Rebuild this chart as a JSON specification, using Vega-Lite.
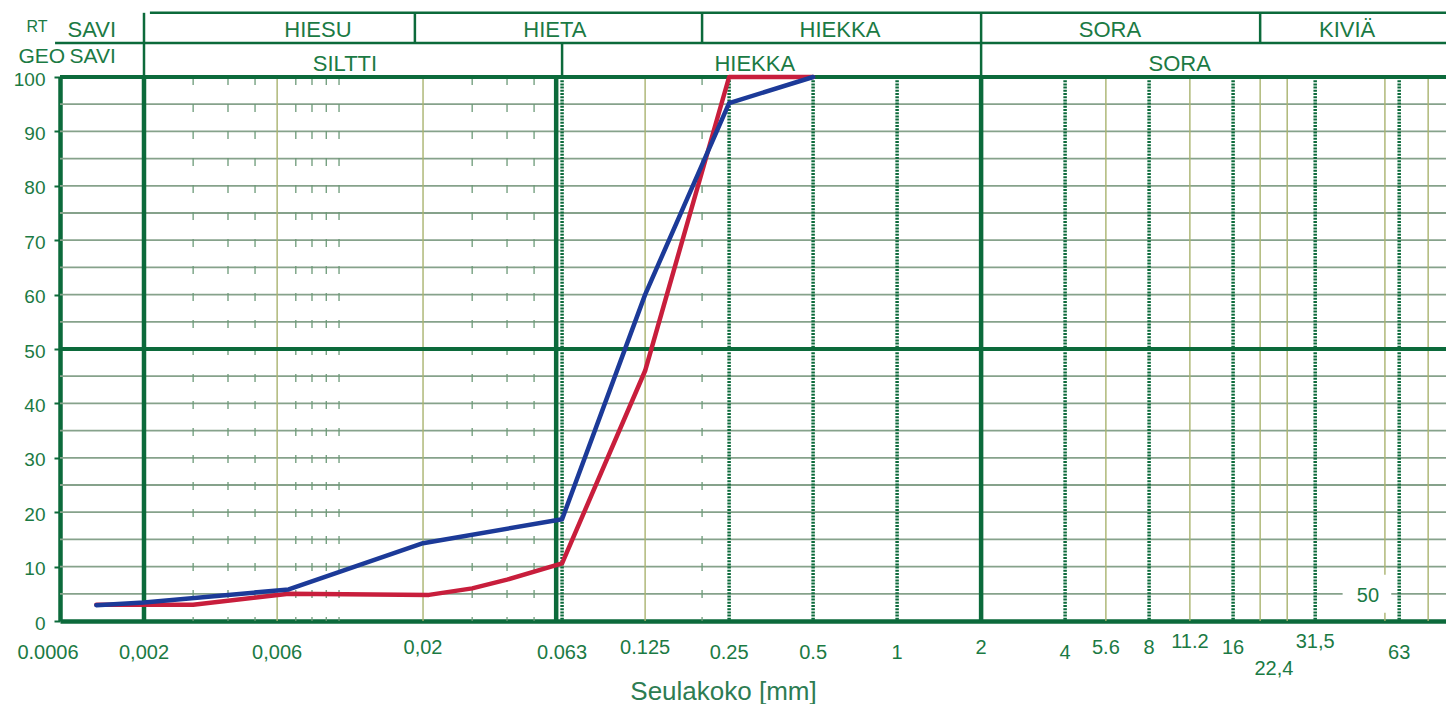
{
  "$schema": "https://vega.github.io/schema/vega-lite/v6.json",
  "width": 1386,
  "height": 544,
  "autosize": "none",
  "padding": {"left": 60, "top": 77, "right": 0, "bottom": 83},
  "background": "white",
  "config": {"view": {"stroke": null}, "font": "Liberation Sans"},
  "datasets": {
    "curves": [
      {"sample": "A", "d": 0.00135, "p": 3.0},
      {"sample": "A", "d": 0.002, "p": 3.0},
      {"sample": "A", "d": 0.003, "p": 3.0},
      {"sample": "A", "d": 0.0066, "p": 5.0},
      {"sample": "A", "d": 0.021, "p": 4.8},
      {"sample": "A", "d": 0.03, "p": 6.0},
      {"sample": "A", "d": 0.04, "p": 7.6},
      {"sample": "A", "d": 0.063, "p": 10.6},
      {"sample": "A", "d": 0.125, "p": 46},
      {"sample": "A", "d": 0.25, "p": 100},
      {"sample": "A", "d": 0.5, "p": 100},
      {"sample": "B", "d": 0.00135, "p": 2.9},
      {"sample": "B", "d": 0.002, "p": 3.4},
      {"sample": "B", "d": 0.0066, "p": 5.8},
      {"sample": "B", "d": 0.02, "p": 14.3},
      {"sample": "B", "d": 0.063, "p": 18.7},
      {"sample": "B", "d": 0.125, "p": 60},
      {"sample": "B", "d": 0.25, "p": 95.2},
      {"sample": "B", "d": 0.5, "p": 100}
    ],
    "vgrid": [
      {"d": 0.002, "kind": "raja"}, {"d": 0.06, "kind": "raja"}, {"d": 2, "kind": "raja"},
      {"d": 0.063, "kind": "seula"}, {"d": 0.25, "kind": "seula"}, {"d": 0.5, "kind": "seula"},
      {"d": 1, "kind": "seula"}, {"d": 4, "kind": "seula"}, {"d": 8, "kind": "seula"},
      {"d": 16, "kind": "seula"}, {"d": 31.5, "kind": "seula"}, {"d": 63, "kind": "seula"},
      {"d": 0.006, "kind": "ohut"}, {"d": 0.02, "kind": "ohut"}, {"d": 0.125, "kind": "ohut"},
      {"d": 5.6, "kind": "ohut"}, {"d": 11.2, "kind": "ohut"}, {"d": 20, "kind": "ohut"},
      {"d": 25, "kind": "ohut"}, {"d": 56, "kind": "ohut"}, {"d": 80, "kind": "ohut"},
      {"d": 0.003, "kind": "katko"}, {"d": 0.004, "kind": "katko"}, {"d": 0.005, "kind": "katko"},
      {"d": 0.007, "kind": "katko"}, {"d": 0.008, "kind": "katko"}, {"d": 0.009, "kind": "katko"},
      {"d": 0.01, "kind": "katko"}, {"d": 0.03, "kind": "katko"}, {"d": 0.04, "kind": "katko"},
      {"d": 0.05, "kind": "katko"}, {"d": 0.2, "kind": "katko"}
    ],
    "hgrid": [
      {"p": 5, "kind": "ohut"}, {"p": 10, "kind": "ohut"}, {"p": 15, "kind": "ohut"}, {"p": 20, "kind": "ohut"},
      {"p": 25, "kind": "ohut"}, {"p": 30, "kind": "ohut"}, {"p": 35, "kind": "ohut"}, {"p": 40, "kind": "ohut"},
      {"p": 45, "kind": "ohut"}, {"p": 55, "kind": "ohut"}, {"p": 60, "kind": "ohut"}, {"p": 65, "kind": "ohut"},
      {"p": 70, "kind": "ohut"}, {"p": 75, "kind": "ohut"}, {"p": 80, "kind": "ohut"}, {"p": 85, "kind": "ohut"},
      {"p": 90, "kind": "ohut"}, {"p": 95, "kind": "ohut"},
      {"p": 50, "kind": "paksu"}, {"p": 100, "kind": "paksu"}
    ],
    "xlabels": [
      {"d": 0.002, "label": "0,002"},
      {"d": 0.006, "label": "0,006"},
      {"d": 0.02, "label": "0,02"},
      {"d": 0.063, "label": "0.063"},
      {"d": 0.125, "label": "0.125"},
      {"d": 0.25, "label": "0.25"},
      {"d": 0.5, "label": "0.5"},
      {"d": 1, "label": "1"},
      {"d": 2, "label": "2"},
      {"d": 4, "label": "4"},
      {"d": 5.6, "label": "5.6"},
      {"d": 8, "label": "8"},
      {"d": 11.2, "label": "11.2"},
      {"d": 16, "label": "16"},
      {"d": 22.4, "label": "22,4"},
      {"d": 31.5, "label": "31,5"},
      {"d": 63, "label": "63"}
    ],
    "header": [
      {"row": "RT", "name": "SAVI", "from": 0.001, "at": 0.0013},
      {"row": "RT", "name": "HIESU", "from": 0.002, "at": 0.0084},
      {"row": "RT", "name": "HIETA", "from": 0.0187, "at": 0.0594},
      {"row": "RT", "name": "HIEKKA", "from": 0.2, "at": 0.624},
      {"row": "RT", "name": "SORA", "from": 2, "at": 5.79},
      {"row": "RT", "name": "KIVIÄ", "from": 20, "at": 41},
      {"row": "GEO", "name": "SAVI", "from": 0.001, "at": 0.00131},
      {"row": "GEO", "name": "SILTTI", "from": 0.002, "at": 0.0105},
      {"row": "GEO", "name": "HIEKKA", "from": 0.063, "at": 0.309},
      {"row": "GEO", "name": "SORA", "from": 2, "at": 10.3}
    ]
  },
  "layer": [
    {
      "data": {"name": "hgrid"},
      "transform": [{"filter": "datum.kind == 'ohut'"}],
      "mark": {"type": "rule", "color": "#86a28b", "strokeWidth": 1.8},
      "encoding": {
        "y": {"field": "p", "type": "quantitative", "scale": {"domain": [0, 100]}}
      }
    },
    {
      "data": {"name": "vgrid"},
      "transform": [{"filter": "datum.kind == 'katko'"}],
      "mark": {"type": "rule", "color": "#6c9a78", "strokeWidth": 1.3, "strokeDash": [8, 19]},
      "encoding": {
        "x": {
          "field": "d", "type": "quantitative",
          "scale": {"type": "log", "domain": [0.001, 92.7]},
          "axis": {
            "labels": false,
            "ticks": false,
            "grid": false,
            "domainColor": "#0c6a3b",
            "domainWidth": 4.5,
            "title": "Seulakoko [mm]",
            "titleFont": "Liberation Sans",
            "titleFontSize": 26,
            "titleFontWeight": "normal",
            "titleColor": "#2d7c52",
            "titleX": 663,
            "titleY": 78,
            "titleAlign": "center",
            "titleBaseline": "alphabetic"
          }
        }
      }
    },
    {
      "data": {"name": "vgrid"},
      "transform": [{"filter": "datum.kind == 'ohut'"}],
      "mark": {"type": "rule", "color": "#a9b36f", "strokeWidth": 1.4},
      "encoding": {
        "x": {"field": "d", "type": "quantitative", "scale": {"type": "log", "domain": [0.001, 92.7]}}
      }
    },
    {
      "data": {"name": "vgrid"},
      "transform": [{"filter": "datum.kind == 'seula'"}],
      "mark": {"type": "rule", "color": "#0c6a3b", "strokeWidth": 3.5, "strokeDash": [2, 1.2]},
      "encoding": {
        "x": {"field": "d", "type": "quantitative", "scale": {"type": "log", "domain": [0.001, 92.7]}}
      }
    },
    {
      "data": {"name": "vgrid"},
      "transform": [{"filter": "datum.kind == 'raja'"}],
      "mark": {"type": "rule", "color": "#0c6a3b", "strokeWidth": 4.5},
      "encoding": {
        "x": {"field": "d", "type": "quantitative", "scale": {"type": "log", "domain": [0.001, 92.7]}}
      }
    },
    {
      "data": {"name": "hgrid"},
      "transform": [{"filter": "datum.kind == 'paksu'"}],
      "mark": {"type": "rule", "color": "#0c6a3b", "strokeWidth": 4},
      "encoding": {
        "y": {"field": "p", "type": "quantitative", "scale": {"domain": [0, 100]}}
      }
    },
    {
      "data": {"values": [{}]},
      "mark": {"type": "rect", "color": "white"},
      "encoding": {
        "x": {"datum": 39.5, "type": "quantitative", "scale": {"type": "log", "domain": [0.001, 92.7]}},
        "x2": {"datum": 59},
        "y": {"datum": 1.5, "type": "quantitative", "scale": {"domain": [0, 100]}},
        "y2": {"datum": 8.5}
      }
    },
    {
      "data": {"values": [{}]},
      "mark": {"type": "text", "text": "50", "font": "Liberation Sans", "fontSize": 20, "color": "#1b7a44", "align": "center", "baseline": "middle"},
      "encoding": {
        "x": {"datum": 48.7, "type": "quantitative", "scale": {"type": "log", "domain": [0.001, 92.7]}},
        "y": {"datum": 4.6, "type": "quantitative", "scale": {"domain": [0, 100]}}
      }
    },
    {
      "data": {"name": "xlabels"},
      "transform": [{"filter": "indexof(['0,002','0,006','0.063','0.25','0.5','1','4','63'], datum.label) >= 0"}],
      "mark": {"type": "text", "font": "Liberation Sans", "fontSize": 20, "color": "#1b7a44", "align": "center", "baseline": "middle"},
      "encoding": {
        "x": {"field": "d", "type": "quantitative", "scale": {"type": "log", "domain": [0.001, 92.7]}},
        "y": {"datum": -5.9, "type": "quantitative", "scale": {"domain": [0, 100]}},
        "text": {"field": "label"}
      }
    },
    {
      "data": {"name": "xlabels"},
      "transform": [{"filter": "indexof(['0,02','0.125','2','5.6','8','16'], datum.label) >= 0"}],
      "mark": {"type": "text", "font": "Liberation Sans", "fontSize": 20, "color": "#1b7a44", "align": "center", "baseline": "middle"},
      "encoding": {
        "x": {"field": "d", "type": "quantitative", "scale": {"type": "log", "domain": [0.001, 92.7]}},
        "y": {"datum": -4.9, "type": "quantitative", "scale": {"domain": [0, 100]}},
        "text": {"field": "label"}
      }
    },
    {
      "data": {"name": "xlabels"},
      "transform": [{"filter": "indexof(['11.2','31,5'], datum.label) >= 0"}],
      "mark": {"type": "text", "font": "Liberation Sans", "fontSize": 20, "color": "#1b7a44", "align": "center", "baseline": "middle"},
      "encoding": {
        "x": {"field": "d", "type": "quantitative", "scale": {"type": "log", "domain": [0.001, 92.7]}},
        "y": {"datum": -3.95, "type": "quantitative", "scale": {"domain": [0, 100]}},
        "text": {"field": "label"}
      }
    },
    {
      "data": {"name": "xlabels"},
      "transform": [{"filter": "datum.label == '22,4'"}],
      "mark": {"type": "text", "font": "Liberation Sans", "fontSize": 20, "color": "#1b7a44", "align": "center", "baseline": "middle"},
      "encoding": {
        "x": {"field": "d", "type": "quantitative", "scale": {"type": "log", "domain": [0.001, 92.7]}},
        "y": {"datum": -8.9, "type": "quantitative", "scale": {"domain": [0, 100]}},
        "text": {"field": "label"}
      }
    },
    {
      "data": {"values": [{}]},
      "mark": {"type": "text", "text": "0.0006", "dx": -12, "font": "Liberation Sans", "fontSize": 20, "color": "#1b7a44", "align": "center", "baseline": "middle"},
      "encoding": {
        "x": {"datum": 0.001, "type": "quantitative", "scale": {"type": "log", "domain": [0.001, 92.7]}},
        "y": {"datum": -5.9, "type": "quantitative", "scale": {"domain": [0, 100]}}
      }
    },
    {
      "data": {"values": [{}]},
      "mark": {"type": "rule", "color": "#0c6a3b", "strokeWidth": 2.5},
      "encoding": {
        "x": {"datum": 0.0021, "type": "quantitative", "scale": {"type": "log", "domain": [0.001, 92.7]}},
        "x2": {"datum": 92.7},
        "y": {"datum": 111.8, "type": "quantitative", "scale": {"domain": [0, 100]}}
      }
    },
    {
      "data": {"values": [{}]},
      "mark": {"type": "rule", "color": "#0c6a3b", "strokeWidth": 2.5},
      "encoding": {
        "x": {"datum": 0.00096, "type": "quantitative", "scale": {"type": "log", "domain": [0.001, 92.7]}},
        "x2": {"datum": 92.7},
        "y": {"datum": 106.25, "type": "quantitative", "scale": {"domain": [0, 100]}}
      }
    },
    {
      "data": {"name": "header"},
      "transform": [{"filter": "datum.row == 'RT' && datum.from > 0.0015"}],
      "mark": {"type": "rule", "color": "#0c6a3b", "strokeWidth": 2.5},
      "encoding": {
        "x": {"field": "from", "type": "quantitative", "scale": {"type": "log", "domain": [0.001, 92.7]}},
        "y": {"datum": 106.25, "type": "quantitative", "scale": {"domain": [0, 100]}},
        "y2": {"datum": 111.8}
      }
    },
    {
      "data": {"name": "header"},
      "transform": [{"filter": "datum.row == 'GEO' && datum.from > 0.0015"}],
      "mark": {"type": "rule", "color": "#0c6a3b", "strokeWidth": 2.5},
      "encoding": {
        "x": {"field": "from", "type": "quantitative", "scale": {"type": "log", "domain": [0.001, 92.7]}},
        "y": {"datum": 100, "type": "quantitative", "scale": {"domain": [0, 100]}},
        "y2": {"datum": 106.25}
      }
    },
    {
      "data": {"name": "header"},
      "transform": [{"filter": "datum.row == 'RT'"}],
      "mark": {"type": "text", "font": "Liberation Sans", "fontSize": 22, "color": "#1b7a44", "align": "center", "baseline": "middle"},
      "encoding": {
        "x": {"field": "at", "type": "quantitative", "scale": {"type": "log", "domain": [0.001, 92.7]}},
        "y": {"datum": 108.6, "type": "quantitative", "scale": {"domain": [0, 100]}},
        "text": {"field": "name"}
      }
    },
    {
      "data": {"name": "header"},
      "transform": [{"filter": "datum.row == 'GEO' && datum.from > 0.0015"}],
      "mark": {"type": "text", "font": "Liberation Sans", "fontSize": 22, "color": "#1b7a44", "align": "center", "baseline": "middle"},
      "encoding": {
        "x": {"field": "at", "type": "quantitative", "scale": {"type": "log", "domain": [0.001, 92.7]}},
        "y": {"datum": 102.3, "type": "quantitative", "scale": {"domain": [0, 100]}},
        "text": {"field": "name"}
      }
    },
    {
      "data": {"name": "header"},
      "transform": [{"filter": "datum.row == 'GEO' && datum.from < 0.0015"}],
      "mark": {"type": "text", "font": "Liberation Sans", "fontSize": 21, "color": "#1b7a44", "align": "center", "baseline": "middle"},
      "encoding": {
        "x": {"field": "at", "type": "quantitative", "scale": {"type": "log", "domain": [0.001, 92.7]}},
        "y": {"datum": 103.6, "type": "quantitative", "scale": {"domain": [0, 100]}},
        "text": {"field": "name"}
      }
    },
    {
      "data": {"values": [{}]},
      "mark": {"type": "text", "text": "RT", "font": "Liberation Sans", "fontSize": 16, "color": "#1b7a44", "align": "center", "baseline": "middle"},
      "encoding": {
        "x": {"datum": 0.000827, "type": "quantitative", "scale": {"type": "log", "domain": [0.001, 92.7]}},
        "y": {"datum": 109.1, "type": "quantitative", "scale": {"domain": [0, 100]}}
      }
    },
    {
      "data": {"values": [{}]},
      "mark": {"type": "text", "text": "GEO", "font": "Liberation Sans", "fontSize": 21, "color": "#1b7a44", "align": "center", "baseline": "middle"},
      "encoding": {
        "x": {"datum": 0.00086, "type": "quantitative", "scale": {"type": "log", "domain": [0.001, 92.7]}},
        "y": {"datum": 103.6, "type": "quantitative", "scale": {"domain": [0, 100]}}
      }
    },
    {
      "data": {"name": "curves"},
      "mark": {"type": "line", "strokeWidth": 4.5, "strokeCap": "round", "strokeJoin": "round"},
      "encoding": {
        "x": {"field": "d", "type": "quantitative", "scale": {"type": "log", "domain": [0.001, 92.7]}},
        "y": {
          "field": "p", "type": "quantitative",
          "scale": {"domain": [0, 100]},
          "axis": {
            "values": [0, 5, 10, 15, 20, 25, 30, 35, 40, 45, 50, 55, 60, 65, 70, 75, 80, 85, 90, 95, 100],
            "labelExpr": "datum.value % 10 == 0 ? datum.label : ''",
            "grid": false,
            "domainColor": "#0c6a3b",
            "domainWidth": 4.5,
            "tickColor": "#0c6a3b",
            "tickSize": 6,
            "tickWidth": 2,
            "labelFont": "Liberation Sans",
            "labelFontSize": 19,
            "labelColor": "#1b7a44",
            "labelPadding": 9,
            "labelOffset": 2,
            "title": null
          }
        },
        "color": {"field": "sample", "type": "nominal", "scale": {"domain": ["A", "B"], "range": ["#c81e3c", "#1c3a98"]}, "legend": null}
      }
    }
  ]
}
